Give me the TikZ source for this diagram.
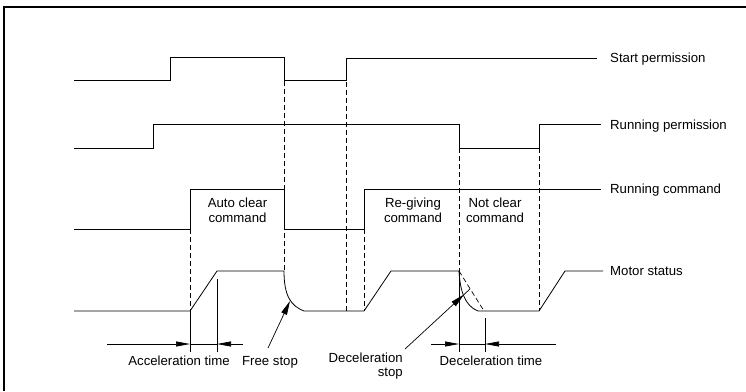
\documentclass[tikz,border=0pt]{standalone}
\usepackage{fontspec}
\setmainfont{Liberation Sans}
\usetikzlibrary{arrows.meta}
\begin{document}
\begin{tikzpicture}[x=1pt,y=-1pt,
  sig/.style={line width=0.8pt,line join=miter},
  guide/.style={line width=0.8pt,dash pattern=on 5pt off 3pt},
  tick/.style={line width=0.7pt},
  dimline/.style={line width=0.7pt},
  dimarrow/.style={line width=0.7pt,-{Triangle[length=14pt,width=5pt]}},
  callout/.style={line width=0.7pt,-{Triangle[length=14pt,width=6pt]}},
  lbl/.style={font=\fontsize{13.2}{14.5}\selectfont,inner sep=0pt},
  frameline/.style={line width=1.6pt}]
\useasboundingbox (0,0) rectangle (746,391);
% frame (only top and left edges visible)
\draw[frameline] (4,391) -- (4,7) -- (746,7);
% guide lines
\draw[guide] (190,189) -- (190,311);
\draw[tick] (190,311) -- (190,352);
\draw[tick] (217,279) -- (217,352);
\draw[guide] (284,57) -- (284,271);
\draw[guide] (346,58) -- (346,311);
\draw[guide] (364,189) -- (364,311);
\draw[guide] (459,124) -- (459,271);
\draw[tick] (459,271) -- (459,352);
\draw[tick] (485,318) -- (485,352);
\draw[guide] (539,124) -- (539,311);
% Start permission
\draw[sig] (74,80) -- (170,80) -- (170,57) -- (284,57) -- (284,80) -- (346,80) -- (346,58) -- (597,58);
\node[lbl,anchor=base west] (sp) at (610,62) {Start permission};
% Running permission
\draw[sig] (74,148) -- (153,148) -- (153,124) -- (459,124) -- (459,148) -- (539,148) -- (539,124) -- (601,124);
\node[lbl,anchor=base west] (rp) at (610,129) {Running permission};
% Running command
\draw[sig] (74,229) -- (190,229) -- (190,189) -- (284,189) -- (284,229) -- (364,229) -- (364,189) -- (601,189);
\node[lbl,anchor=base west] (rc) at (610,193) {Running command};
% Motor status
\draw[sig] (74,311) -- (190,311) -- (217,271) -- (284,271)
  .. controls (284,296) and (291,306) .. (304,311) -- (364,311) -- (391,271) -- (459,271)
  .. controls (460,291) and (465,306) .. (478,311) -- (539,311) -- (565,271) -- (603,271);
\draw[guide,line width=0.7pt] (459,271) -- (484,311);
\node[lbl,anchor=base west] (ms) at (610,275) {Motor status};
% command texts
\node[lbl,align=center,anchor=north] (ac) at (237.5,198) {Auto clear\\command};
\node[lbl,align=center,anchor=north] (rg) at (413,198) {Re-giving\\command};
\node[lbl,align=center,anchor=north] (nc) at (495,198) {Not clear\\command};
% acceleration time
\coordinate (a1) at (107,344);
\coordinate (a2) at (190,344);
\coordinate (a3) at (217,344);
\coordinate (a4) at (243,344);
\draw[dimarrow] (a1) -- (a2);
\draw[dimarrow] (a4) -- (a3);
\draw[dimline] (a2) -- (a3);
\node[lbl,anchor=base] (at) at (179,365.5) {Acceleration time};
% deceleration time
\coordinate (d1) at (431,344);
\coordinate (d2) at (459,344);
\coordinate (d3) at (485,344);
\coordinate (d4) at (556,344);
\draw[dimarrow] (d1) -- (d2);
\draw[dimarrow] (d4) -- (d3);
\draw[dimline] (d2) -- (d3);
\node[lbl,anchor=base] (dt) at (491,365.5) {Deceleration time};
% free stop
\node[lbl,anchor=base] (fs) at (270,365.5) {Free stop};
\coordinate (fsa) at (268,348);
\coordinate (fsb) at (290,301);
\draw[callout] (fsa) -- (fsb);
% deceleration stop
\node[lbl,align=right,anchor=north east] (ds) at (403,352.5) {Deceleration\\stop};
\coordinate (dsa) at (405,349);
\coordinate (dsb) at (464,294.5);
\coordinate (dsc) at (470,289);
\draw[callout] (dsa) -- (dsb);
\draw[dimline] (dsb) -- (dsc);
\end{tikzpicture}
\end{document}
